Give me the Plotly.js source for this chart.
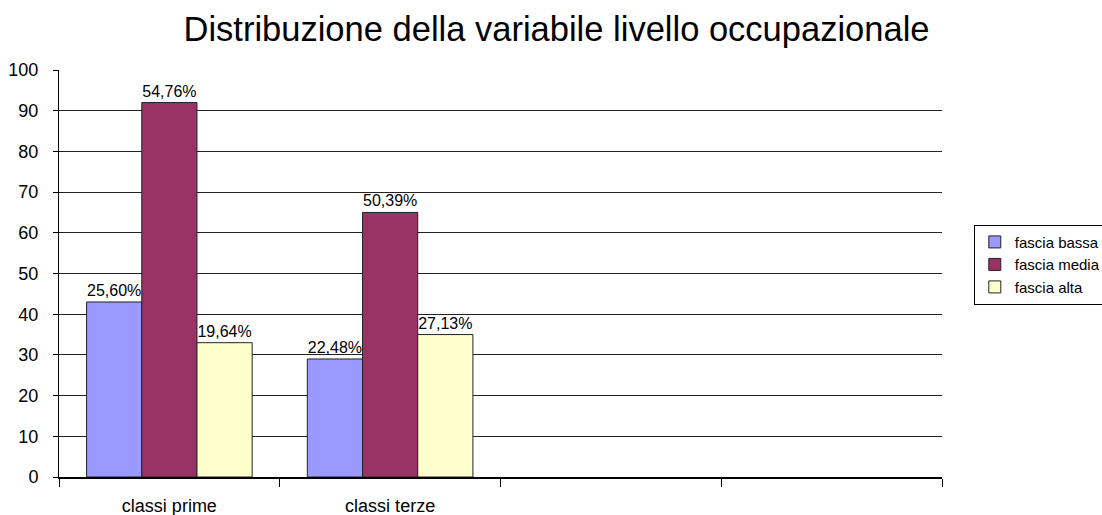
<!DOCTYPE html>
<html><head><meta charset="utf-8">
<script src="https://cdn.plot.ly/plotly-3.0.1.min.js"></script>
<style>html,body{margin:0;padding:0;background:#fff}#chart{width:1102px;height:515px}</style>
</head><body><div id="chart"></div>
<script>
var categories = ["classi prime", "classi terze"];
var axisCategories = ["classi prime", "classi terze", " ", "  "];
var seriesNames = ["fascia bassa", "fascia media", "fascia alta"];
var bassa = [43, 29];
var media = [92, 65];
var alta = [33, 35];
var bassaLabels = ["25,60%", "22,48%"];
var mediaLabels = ["54,76%", "50,39%"];
var altaLabels = ["19,64%", "27,13%"];
var colors = ["#9999FF", "#993366", "#FFFFCC"];

var values = [bassa, media, alta];
var labels = [bassaLabels, mediaLabels, altaLabels];
var font = "Liberation Sans, Arial, sans-serif";
var traces = seriesNames.map(function(n, i){
  return {
    type: "bar", name: n, x: categories, y: values[i],
    text: labels[i], textposition: "outside", cliponaxis: false,
    textfont: {family: font, size: 16, color: "#000"},
    marker: {color: colors[i], line: {color: "#222", width: 1}}
  };
});
var layout = {
  width: 1102, height: 515,
  margin: {l: 59, r: 160, t: 70, b: 38, autoexpand: false},
  paper_bgcolor: "#fff", plot_bgcolor: "#fff",
  barmode: "group", bargap: 0.25, bargroupgap: 0,
  font: {family: font, color: "#000"},
  title: {text: "Distribuzione della variabile livello occupazionale",
          font: {family: font, size: 34.5, color: "#000"},
          x: 0.505, xanchor: "center", xref: "container",
          y: 0.944, yanchor: "middle", yref: "container"},
  xaxis: {type: "category", categoryorder: "array", categoryarray: axisCategories,
          range: [-0.5, 3.5], tickson: "boundaries", ticks: "outside", ticklen: 8,
          tickcolor: "#000", showline: true, linecolor: "#000", linewidth: 2,
          showgrid: false, tickfont: {family: font, size: 18, color: "#000"},
          ticklabelstandoff: 11, fixedrange: true},
  yaxis: {range: [0, 100], dtick: 10, ticks: "outside", ticklen: 5, tickcolor: "#000",
          showline: true, linecolor: "#000", linewidth: 1,
          showgrid: true, gridcolor: "#222", gridwidth: 1, zeroline: false,
          tickfont: {family: font, size: 18, color: "#000"},
          ticklabelstandoff: 11, fixedrange: true},
  legend: {x: 1.036, xanchor: "left", y: 0.62, yanchor: "top",
           bordercolor: "#000", borderwidth: 1, bgcolor: "#fff",
           font: {family: font, size: 15, color: "#000"},
           tracegroupgap: 0, itemwidth: 30}
};
Plotly.newPlot("chart", traces, layout, {displayModeBar: false, staticPlot: true});
</script></body></html>
